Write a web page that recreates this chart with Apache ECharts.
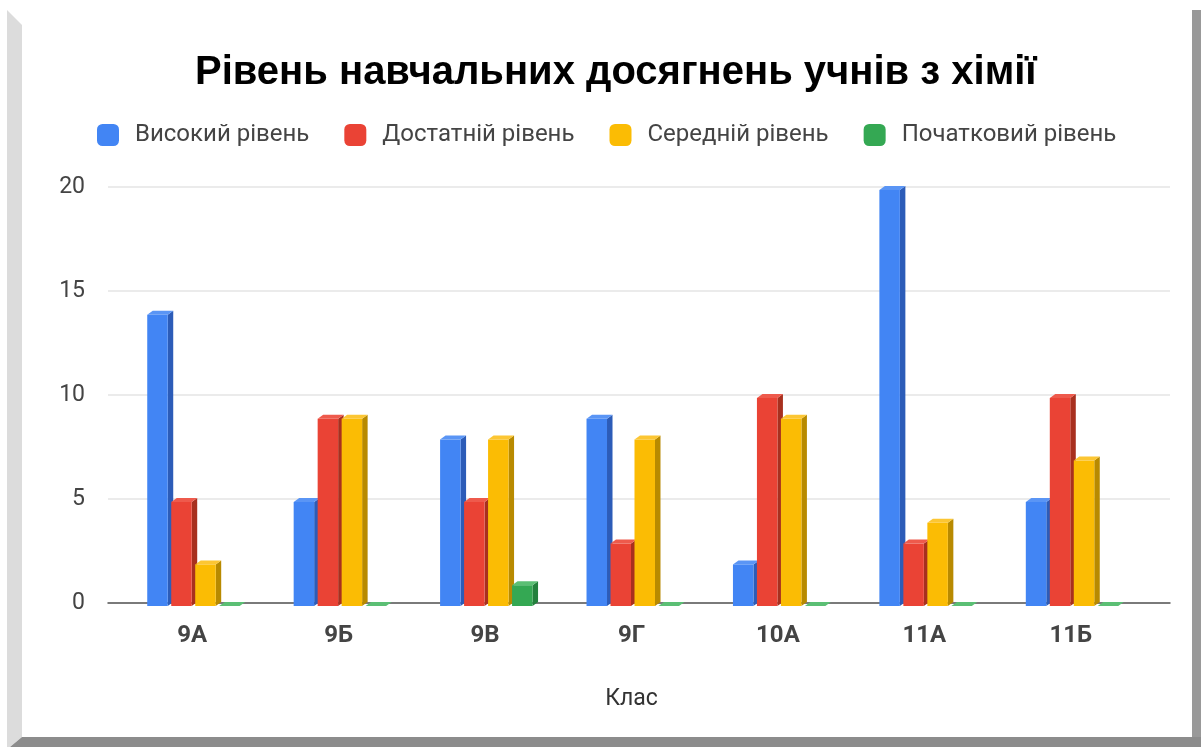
<!DOCTYPE html>
<html>
<head>
<meta charset="utf-8">
<script src="https://cdn.jsdelivr.net/npm/echarts@6/dist/echarts.min.js"></script>
<style>
html,body{margin:0;padding:0;background:#fff;}
#chart{width:1201px;height:747px;}
</style>
</head>
<body>
<div id="chart"></div>
<script>
const titleText = 'Рівень навчальних досягнень учнів з хімії';
const categories = ['9А', '9Б', '9В', '9Г', '10А', '11А', '11Б'];
const seriesNames = ['Високий рівень', 'Достатній рівень', 'Середній рівень', 'Початковий рівень'];
const high = [14, 5, 8, 9, 2, 20, 5];
const sufficient = [5, 9, 5, 3, 10, 3, 10];
const medium = [2, 9, 8, 8, 9, 4, 7];
const initial = [0, 0, 1, 0, 0, 0, 0];
const yTicks = [0, 5, 10, 15, 20];
const xAxisName = 'Клас';

const frontColors = ['#4285F4', '#EA4335', '#FBBC04', '#34A853'];
const sideColors = ['#2C5CB8', '#A8301F', '#B88A00', '#23803D'];
const topColors = ['#5A95F5', '#EE5A4C', '#FCC633', '#5BBF74'];
const values = [high, sufficient, medium, initial];

function makeRender(s) {
  return function (params, api) {
    const idx = api.value(0);
    const v = api.value(1);
    const p = api.coord([idx, v]);
    const b = api.coord([idx, 0]);
    const band = api.size([1, 0])[0];
    const k = band / 146.5;
    const step = 24 * k, w = 20.5 * k;
    const x0 = p[0] - 2 * step + s * step + 3 * k;
    const dx = 5.5, dy = 4, off = 3;
    const yTop = p[1] + off, yBot = b[1] + off;
    return {
      type: 'group',
      children: [
        { type: 'polygon', shape: { points: [[x0 + w, yTop], [x0 + w + dx, yTop - dy], [x0 + w + dx, yBot - dy], [x0 + w, yBot]] }, style: { fill: sideColors[s] } },
        { type: 'rect', shape: { x: x0, y: yTop, width: w, height: Math.max(0, yBot - yTop) }, style: { fill: frontColors[s] } },
        { type: 'polygon', shape: { points: [[x0, yTop], [x0 + dx, yTop - dy], [x0 + w + dx, yTop - dy], [x0 + w, yTop]] }, style: { fill: topColors[s] } }
      ]
    };
  };
}

const series = seriesNames.map((name, s) => ({
  name: name,
  type: 'custom',
  xAxisIndex: 0,
  yAxisIndex: 0,
  renderItem: makeRender(s),
  itemStyle: { color: frontColors[s] },
  encode: { x: 0, y: 1 },
  data: values[s].map((v, i) => [i, v]),
  z: 3
}));

const chart = echarts.init(document.getElementById('chart'), null, { renderer: 'canvas' });
chart.setOption({
  animation: false,
  backgroundColor: '#fff',
  title: {
    text: titleText,
    left: 190,
    top: 48,
    textStyle: { fontFamily: 'Liberation Sans, Arial, sans-serif', fontWeight: 'bold', fontSize: 40, color: '#000' }
  },
  legend: {
    left: 92,
    top: 118,
    itemWidth: 22,
    itemHeight: 22,
    itemGap: 35,
    icon: 'roundRect',
    textStyle: { fontFamily: 'Roboto, sans-serif', fontSize: 24, color: '#444', padding: [0, 0, 0, 11] },
    data: seriesNames
  },
  grid: [
    { left: 119, right: 57, top: 187, bottom: 144 },
    { left: 108, right: 31, top: 187, bottom: 144 }
  ],
  xAxis: [
    {
      type: 'category', gridIndex: 0, data: categories,
      axisLine: { show: false }, axisTick: { show: false },
      axisLabel: { margin: 21, fontFamily: 'Roboto, sans-serif', fontWeight: 'bold', fontSize: 24, color: '#444' },
      name: xAxisName, nameLocation: 'middle', nameGap: 85,
      nameTextStyle: { fontFamily: 'Roboto, sans-serif', fontSize: 23, color: '#333' }
    },
    {
      type: 'value', gridIndex: 1, min: 0, max: 1,
      axisLine: { show: true, lineStyle: { color: '#555', width: 1.5 } },
      axisTick: { show: false }, axisLabel: { show: false }, splitLine: { show: false }
    }
  ],
  yAxis: [
    { type: 'value', gridIndex: 0, min: 0, max: 20, interval: 5, show: false, splitLine: { show: false } },
    {
      type: 'value', gridIndex: 1, min: yTicks[0], max: yTicks[yTicks.length - 1], interval: 5,
      axisLine: { show: false }, axisTick: { show: false },
      axisLabel: { margin: 23, fontFamily: 'Roboto, sans-serif', fontSize: 23, color: '#444' },
      splitLine: { show: true, lineStyle: { color: '#e4e4e4', width: 1.5 } }
    }
  ],
  graphic: [
    { type: 'polygon', shape: { points: [[7, 10], [22, 25], [22, 737], [10, 747], [7, 747]] }, style: { fill: '#dcdcdc' }, z: 100 },
    { type: 'polygon', shape: { points: [[10, 747], [22, 737], [1192, 737], [1201, 728], [1201, 747]] }, style: { fill: '#8c8c8c' }, z: 100 },
    { type: 'rect', shape: { x: 1192, y: 10, width: 9, height: 727 }, style: { fill: '#999' }, z: 100 }
  ],
  series: series
});
</script>
</body>
</html>
